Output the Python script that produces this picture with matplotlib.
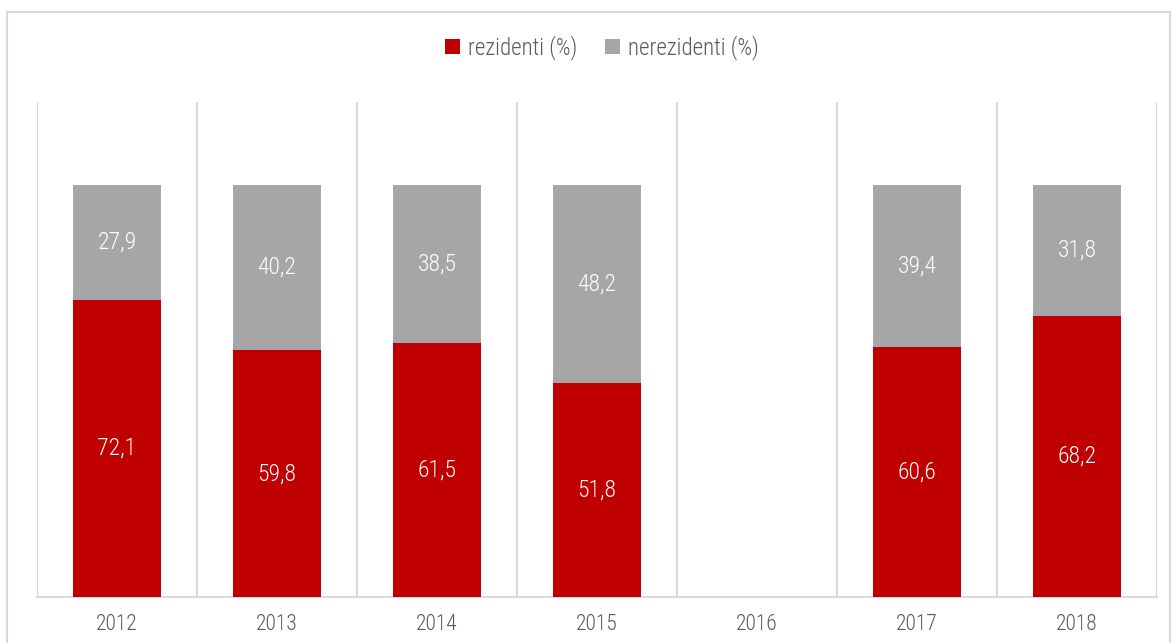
import matplotlib.pyplot as plt
import numpy as np
from matplotlib import font_manager
from matplotlib.patches import Rectangle

years = ["2012", "2013", "2014", "2015", "2016", "2017", "2018"]
rezidenti = [72.1, 59.8, 61.5, 51.8, np.nan, 60.6, 68.2]
nerezidenti = [27.9, 40.2, 38.5, 48.2, np.nan, 39.4, 31.8]

RED = "#c00000"
GREY = "#a6a6a6"
TEXT = "#595959"
LINE = "#d9d9d9"

names = {f.name for f in font_manager.fontManager.ttflist}
family = [f for f in ["Roboto Condensed", "Liberation Sans Narrow", "Roboto", "DejaVu Sans"] if f in names]
plt.rcParams["font.family"] = family
plt.rcParams["font.stretch"] = "condensed"
plt.rcParams["font.weight"] = "light"

fig = plt.figure(figsize=(11.73, 6.43), dpi=100)
W, H = 1173, 643
ax = fig.add_axes([37 / W, 1 - 597 / H, (1157 - 37) / W, (597 - 102) / H])

x = np.arange(len(years))
r = np.nan_to_num(rezidenti)
n = np.nan_to_num(nerezidenti)
ax.bar(x, r, width=0.556, color=RED, label="rezidenti (%)", zorder=3)
ax.bar(x, n, width=0.556, bottom=r, color=GREY, label="nerezidenti (%)", zorder=3)

for i in range(len(years)):
    if np.isnan(rezidenti[i]):
        continue
    ax.text(x[i], r[i] / 2, f"{rezidenti[i]:.1f}".replace(".", ","), ha="center", va="center",
            color="white", fontsize=17, zorder=4)
    ax.text(x[i], r[i] + n[i] / 2, f"{nerezidenti[i]:.1f}".replace(".", ","), ha="center", va="center",
            color="white", fontsize=17, zorder=4)

ax.set_xlim(-0.5, len(years) - 0.5)
ax.set_ylim(0, 120)
for b in np.arange(-0.5, len(years), 1.0):
    ax.axvline(b, color=LINE, linewidth=1.5, zorder=1)
for s in ["top", "right", "left"]:
    ax.spines[s].set_visible(False)
ax.spines["bottom"].set_color(LINE)
ax.spines["bottom"].set_linewidth(1.5)
ax.set_yticks([])
ax.set_xticks(x)
ax.set_xticklabels(years, color=TEXT, fontsize=15.5)
ax.tick_params(axis="x", length=0, pad=12)

fig.legend(loc="center", bbox_to_anchor=(602 / W, 1 - 48 / H), ncol=2, frameon=False,
           fontsize=16.5, labelcolor=TEXT, handlelength=0.65, handleheight=0.65,
           handletextpad=0.35, columnspacing=1.2)

fig.patches.append(Rectangle((7 / W, -0.01), (1170 - 7) / W, 1 - 12 / H + 0.01, transform=fig.transFigure,
                             fill=False, edgecolor=LINE, linewidth=1.5))

plt.savefig("out.png", dpi=100)
